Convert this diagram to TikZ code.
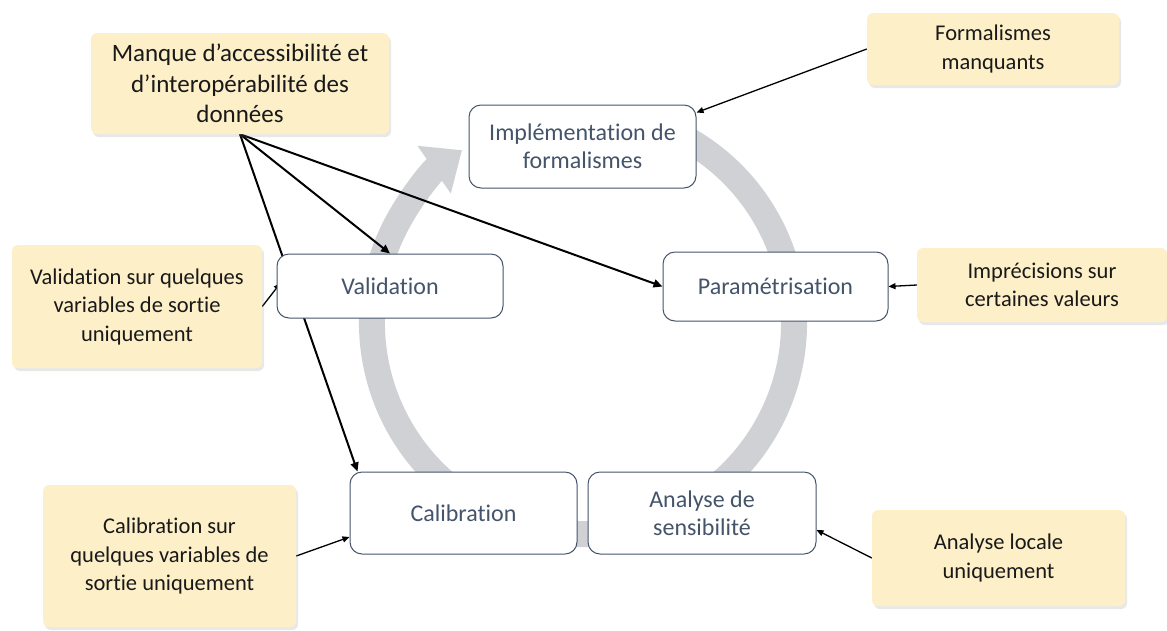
\documentclass[tikz,border=0pt]{standalone}
\usepackage{fontspec}
\setmainfont{Carlito}[Ligatures={NoCommon}]
\usepackage{xcolor}
\usetikzlibrary{arrows.meta,positioning,calc,shadows}
\definecolor{noteyellow}{HTML}{FDF0C8}
\definecolor{stepblue}{HTML}{44546A}
\definecolor{ringgrey}{HTML}{D0D1D5}
\pgfdeclarelayer{ring}
\pgfdeclarelayer{links}
\pgfsetlayers{ring,links,main}

\begin{document}
\begin{tikzpicture}[
  x=1pt, y=-1pt,
  note/.style={fill=noteyellow, rounded corners=6pt, inner sep=0pt, align=center,
    font=\fontsize{22.5}{28.5}\selectfont, text=black!90,
    drop shadow={opacity=0.18, shadow xshift=2pt, shadow yshift=-3pt}},
  stepbox/.style={draw=stepblue, line width=1pt, fill=white, rounded corners=12pt,
    inner sep=0pt, align=center, text=stepblue, font=\fontsize{24}{28}\selectfont},
  link/.style={-{Triangle[length=7pt,width=6pt]}, line width=1.3pt},
  biglink/.style={-{Triangle[length=9pt,width=8pt]}, line width=2pt},
]
\useasboundingbox (0,0) rectangle (1167,630);
\def\rr{211}
% cycle steps
\node[stepbox, minimum width=227, minimum height=83] (impl) at (582.5,146.5) {Implémentation de\\formalismes};
\node[stepbox, minimum width=226, minimum height=64] (valid) at (390,286) {Validation};
\node[stepbox, minimum width=225, minimum height=69] (param) at (775.5,286.5) {Paramétrisation};
\node[stepbox, minimum width=227, minimum height=82] (calib) at (463.5,513) {Calibration};
\node[stepbox, minimum width=228, minimum height=82] (sensib) at (702,513) {Analyse de\\sensibilité};
% limitations
\node[note, minimum width=298, minimum height=101, font=\fontsize{25}{30.5}\selectfont] (manque) at (240,83.5)
  {Manque d’accessibilité et\\d’interopérabilité des\\données};
\node[note, minimum width=252, minimum height=72] (formal) at (993,49) {Formalismes\\manquants};
\node[note, minimum width=250, minimum height=74] (imprec) at (1042,285) {Imprécisions sur\\certaines valeurs};
\node[note, minimum width=250, minimum height=123] (valsur) at (137,306.5)
  {Validation sur quelques\\variables de sortie\\uniquement};
\node[note, minimum width=253, minimum height=142] (calsur) at (169.5,556)
  {Calibration sur\\quelques variables de\\sortie uniquement};
\node[note, minimum width=253, minimum height=96] (locale) at (998.5,558) {Analyse locale\\uniquement};
% grey cycle arrow
\begin{pgfonlayer}{ring}
  \coordinate (hub) at (583,323);
  \draw[ringgrey, line width=26pt, -{Triangle[length=34pt,width=56pt]}]
    ([shift={(-64:\rr)}]hub) arc[start angle=-64, end angle=235, radius=\rr];
\end{pgfonlayer}
% connectors
\begin{pgfonlayer}{links}
  \draw[biglink] (manque.south) -- (valid.north);
  \draw[biglink] (manque.south) -- (param.west);
  \draw[biglink] (manque.south) -- ([xshift=8pt]calib.north west);
  \draw[link] (formal.west) -- ([yshift=-8pt]impl.north east);
  \draw[link] (imprec.west) -- (param.east);
  \draw[link] (valsur.east) -- ([xshift=4pt,yshift=3pt]valid.west);
  \draw[link] (calsur.east) -- ([yshift=-24pt]calib.west);
  \draw[link] (locale.west) -- ([yshift=-17pt]sensib.east);
\end{pgfonlayer}
\end{tikzpicture}
\end{document}
